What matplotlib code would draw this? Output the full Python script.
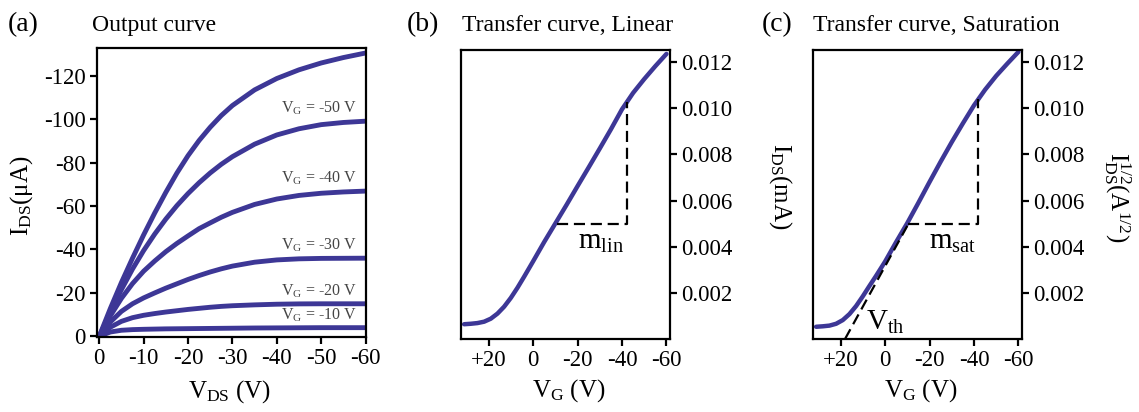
import numpy as np
import matplotlib
matplotlib.use('Agg')
import matplotlib.pyplot as plt

plt.rcParams['font.family'] = ['Liberation Serif', 'DejaVu Serif']
plt.rcParams['mathtext.fontset'] = 'custom'
plt.rcParams['mathtext.rm'] = 'Liberation Serif'
plt.rcParams['mathtext.it'] = 'Liberation Serif:italic'
plt.rcParams['axes.unicode_minus'] = False

LINE_COLOR = '#3d3796'

# Output curves: drain voltage (V) and drain current (uA) per gate voltage
V_DS = [0, -2.5, -5, -7.5, -10, -12.5, -15, -17.5, -20, -22.5, -25, -27.5, -30,
        -35, -40, -45, -50, -55, -60]
I_VG60 = [0, -12.8, -24.8, -36, -46.7, -56.8, -66.3, -75.2, -83.2, -90.2, -96.3, -101.7, -106.3,
          -113.5, -118.75, -122.75, -125.9, -128.4, -130.5]
I_VG50 = [0, -11.1, -21.5, -31, -39.5, -47.1, -54, -60.2, -65.75, -70.75, -75.25, -79.25, -82.75,
          -88.5, -92.75, -95.6, -97.5, -98.5, -99.1]
I_VG40 = [0, -9.4, -17.5, -24.3, -30, -34.7, -39, -42.8, -46.25, -49.6, -52.25, -54.85, -57.1,
          -60.75, -63.25, -64.9, -65.9, -66.5, -66.9]
I_VG30 = [0, -6.6, -11.5, -15.0, -17.7, -20.0, -22.2, -24.2, -26.2, -28.0, -29.65, -31.1, -32.35,
          -34.15, -35.2, -35.7, -35.9, -35.95, -36.0]
I_VG20 = [0, -4.2, -6.9, -8.6, -9.7, -10.5, -11.2, -11.8, -12.4, -12.9, -13.4, -13.8, -14.1,
          -14.5, -14.8, -14.95, -15, -15, -15]
I_VG10 = [0, -2.0, -2.8, -3.1, -3.25, -3.35, -3.45, -3.5, -3.55, -3.6, -3.65, -3.7, -3.75,
          -3.85, -3.9, -3.95, -4.0, -4.0, -4.0]
output_curves = [I_VG10, I_VG20, I_VG30, I_VG40, I_VG50, I_VG60]
gate_labels = ['-10', '-20', '-30', '-40', '-50', None]

# Transfer curves: gate voltage (V) against drain current / sqrt current
V_G = [31, 28, 25, 22, 19, 16, 13, 10, 7, 4, 0, -5, -10, -15, -20, -25, -30,
       -35, -40, -45, -50, -55, -60]
I_lin = [0.00064, 0.00066, 0.00069, 0.00075, 0.00088, 0.00110, 0.00140, 0.00178, 0.00222, 0.00270,
         0.00336, 0.00420, 0.00500, 0.00580, 0.00662, 0.00743, 0.00825, 0.00908, 0.00995,
         0.01066, 0.01126, 0.01182, 0.01235]
I_sat = [0.00053, 0.00055, 0.00058, 0.00066, 0.00082, 0.00108, 0.00143, 0.00185, 0.00230, 0.00274,
         0.00335, 0.00420, 0.00502, 0.00590, 0.00680, 0.00768, 0.00853, 0.00934, 0.01012,
         0.01080, 0.01140, 0.01193, 0.01244]

# slope triangles (gate voltage, current) and threshold tangent
LIN_TRI = ([-10.6, -42.1, -42.1], [0.0050, 0.0050, 0.01027])
SAT_TRI = ([-10.5, -41.9, -41.9], [0.00497, 0.00497, 0.01038])
VTH_LINE = ([18, -10], [0.0, 0.0049])

TRANSFER_TICKS = [20, 0, -20, -40, -60]
TRANSFER_TICKLABELS = ['+20', '0', '-20', '-40', '-60']
CURRENT_TICKS = [0.002, 0.004, 0.006, 0.008, 0.010, 0.012]

W, H = 1139, 412
fig = plt.figure(figsize=(W / 100, H / 100), dpi=100)


def px_axes(left, top, right, bottom):
    return fig.add_axes([left / W, 1 - bottom / H, (right - left) / W, (bottom - top) / H])


def style_frame(ax):
    for sp in ax.spines.values():
        sp.set_linewidth(1.6)
    ax.tick_params(direction='out', length=5, width=1.6, labelsize=16.5, pad=3)


# (a) output curves
ax_a = px_axes(97, 48, 366, 337)
for curve, lab in zip(output_curves, gate_labels):
    ax_a.plot(V_DS, curve, color=LINE_COLOR, lw=3.5, solid_capstyle='round')
    if lab is not None:
        ax_a.annotate(r'$\mathrm{V_G}$ = ' + lab + ' V', xy=(V_DS[-1], curve[-1]),
                      xytext=(-6, 9), textcoords='offset points', ha='right', va='center',
                      fontsize=11.5, color='#454545')
ax_a.set_xlim(0.5, -60.1)
ax_a.set_ylim(0.3, -132.8)
ax_a.set_xticks([0, -10, -20, -30, -40, -50, -60])
ax_a.set_yticks([0, -20, -40, -60, -80, -100, -120])
style_frame(ax_a)
ax_a.set_xlabel(r'$\mathrm{V_{DS}}$ (V)', fontsize=18, va='center')
ax_a.set_ylabel(r'$\mathrm{I_{DS}}$(μA)', fontsize=18, va='center', ha='center')
ax_a.xaxis.set_label_coords(0.491, -0.19)
ax_a.yaxis.set_label_coords(-0.279, 0.49)


def transfer_panel(left, current, tri, right_label, label_x, label_y):
    ax = px_axes(left, 50, left + 209, 339)
    ax.plot(V_G, current, color=LINE_COLOR, lw=3.2, solid_capstyle='round')
    ax.plot(*tri, color='black', lw=1.6, dashes=(5, 2.6))
    ax.set_xlim(32.4, -61.6)
    ax.set_ylim(0, 0.01252)
    ax.set_xticks(TRANSFER_TICKS)
    ax.set_xticklabels(TRANSFER_TICKLABELS)
    ax.set_yticks(CURRENT_TICKS)
    ax.set_yticklabels(['%.3f' % t for t in CURRENT_TICKS])
    ax.yaxis.tick_right()
    style_frame(ax)
    ax.set_xlabel(r'$\mathrm{V_G}$ (V)', fontsize=18, va='center')
    ax.xaxis.set_label_coords(0.515, -0.18)
    ax.yaxis.set_label_position('right')
    ax.set_ylabel(right_label, fontsize=18, rotation=270, va='center', ha='center')
    ax.yaxis.set_label_coords(label_x, label_y)
    return ax


# (b) linear regime
ax_b = transfer_panel(461, I_lin, LIN_TRI, r'$\mathrm{I_{DS}}$(mA)', 1.526, 0.53)
ax_b.text(-30.6, 0.0042, r'$\mathrm{m_{lin}}$', fontsize=21, ha='center', va='center')

# (c) saturation regime with threshold extrapolation
ax_c = transfer_panel(813, I_sat, SAT_TRI, r'$\mathrm{I_{DS}^{1/2}(A^{1/2})}$', 1.455, 0.49)
ax_c.plot(*VTH_LINE, color='black', lw=1.6, dashes=(5, 2.6))
ax_c.text(-30.5, 0.0042, r'$\mathrm{m_{sat}}$', fontsize=21, ha='center', va='center')
ax_c.text(0, 0.0007, r'$\mathrm{V_{th}}$', fontsize=21, ha='center', va='center')

# panel tags and titles
for x_tag, x_title, title, tag in [(8, 92, 'Output curve', '(a)'),
                                   (407, 462, 'Transfer curve, Linear', '(b)'),
                                   (762, 813, 'Transfer curve, Saturation', '(c)')]:
    fig.text(x_tag / W, 1 - 31 / H, tag, fontsize=20, va='baseline')
    fig.text(x_title / W, 1 - 31 / H, title, fontsize=17, va='baseline')

fig.savefig('out.png', dpi=100)
